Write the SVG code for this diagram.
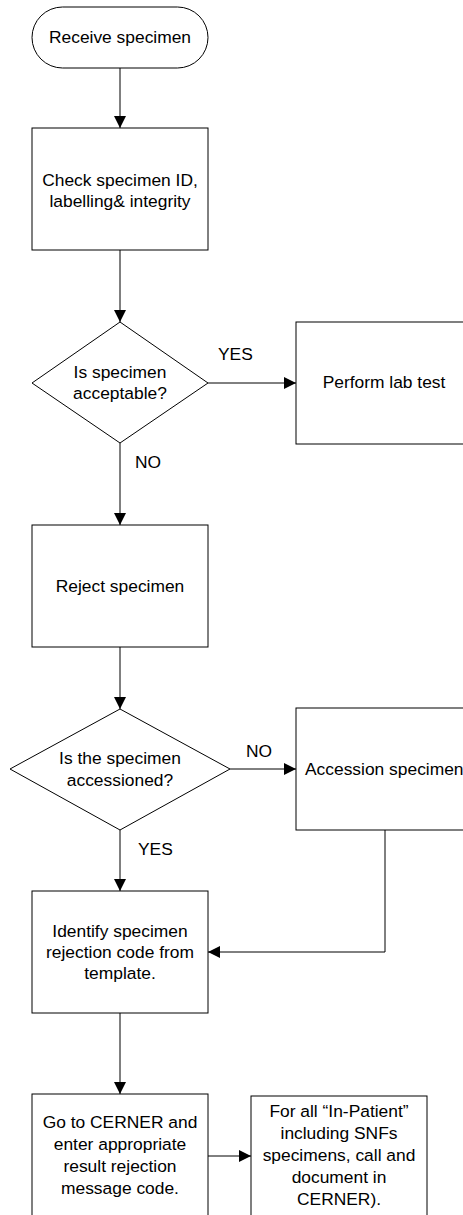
<svg xmlns="http://www.w3.org/2000/svg" width="463" height="1215" viewBox="0 0 463 1215">
<defs>
<style>
.shape{fill:#fff;stroke:#000;stroke-width:1}
.conn{fill:none;stroke:#000;stroke-width:1}
text{font-family:"Liberation Sans",Arial,sans-serif;font-size:17.4px;fill:#000;text-anchor:middle}
.lbl{text-anchor:start}
</style>
<marker id="arr" markerWidth="12" markerHeight="12" refX="12" refY="6" orient="auto" markerUnits="userSpaceOnUse">
<path d="M0,0 L12,6 L0,12 Z" fill="#000"/>
</marker>
</defs>
<rect width="463" height="1215" fill="#fff"/>
<g id="connectors">
<line class="conn" x1="120" y1="68" x2="120" y2="128" marker-end="url(#arr)"/>
<line class="conn" x1="120" y1="250" x2="120" y2="322" marker-end="url(#arr)"/>
<line class="conn" x1="208" y1="383" x2="296" y2="383" marker-end="url(#arr)"/>
<line class="conn" x1="120" y1="443" x2="120" y2="525" marker-end="url(#arr)"/>
<line class="conn" x1="120" y1="647" x2="120" y2="709" marker-end="url(#arr)"/>
<line class="conn" x1="230" y1="769" x2="296" y2="769" marker-end="url(#arr)"/>
<line class="conn" x1="120" y1="830" x2="120" y2="891" marker-end="url(#arr)"/>
<polyline class="conn" points="385,830 385,952 208,952" marker-end="url(#arr)"/>
<line class="conn" x1="120" y1="1013" x2="120" y2="1094" marker-end="url(#arr)"/>
<line class="conn" x1="208" y1="1156" x2="251" y2="1156" marker-end="url(#arr)"/>
<text class="lbl" x="218" y="360">YES</text>
<text class="lbl" x="135" y="468">NO</text>
<text class="lbl" x="246" y="757">NO</text>
<text class="lbl" x="138" y="855">YES</text>
</g>
<g id="receive">
<rect class="shape" x="32" y="7" width="176" height="61" rx="30.5" ry="30.5"/>
<text x="120" y="43">Receive specimen</text>
</g>
<g id="check">
<rect class="shape" x="32" y="128" width="176" height="122"/>
<text x="120" y="186">Check specimen ID,</text>
<text x="120" y="207">labelling&amp; integrity</text>
</g>
<g id="acceptable">
<polygon class="shape" points="120,322 208,383 120,443 32,383"/>
<text x="120" y="378">Is specimen</text>
<text x="120" y="399">acceptable?</text>
</g>
<g id="perform">
<rect class="shape" x="296" y="322" width="176" height="122"/>
<text x="384" y="388">Perform lab test</text>
</g>
<g id="reject">
<rect class="shape" x="32" y="525" width="176" height="122"/>
<text x="120" y="592">Reject specimen</text>
</g>
<g id="accessioned">
<polygon class="shape" points="120,709 230,769 120,830 10,769"/>
<text x="120" y="764">Is the specimen</text>
<text x="120" y="786">accessioned?</text>
</g>
<g id="accession">
<rect class="shape" x="296" y="708" width="176" height="122"/>
<text class="lbl" x="305" y="775">Accession specimen</text>
</g>
<g id="identify">
<rect class="shape" x="32" y="891" width="176" height="122"/>
<text x="120" y="937">Identify specimen</text>
<text x="120" y="958">rejection code from</text>
<text x="120" y="979">template.</text>
</g>
<g id="cerner">
<rect class="shape" x="32" y="1094" width="176" height="130"/>
<text x="120" y="1128">Go to CERNER and</text>
<text x="120" y="1150">enter appropriate</text>
<text x="120" y="1172">result rejection</text>
<text x="120" y="1194">message code.</text>
</g>
<g id="inpatient">
<rect class="shape" x="251" y="1096" width="176" height="130"/>
<text x="339" y="1117">For all “In-Patient”</text>
<text x="339" y="1139">including SNFs</text>
<text x="339" y="1161">specimens, call and</text>
<text x="339" y="1183">document in</text>
<text x="339" y="1205">CERNER).</text>
</g>
</svg>
